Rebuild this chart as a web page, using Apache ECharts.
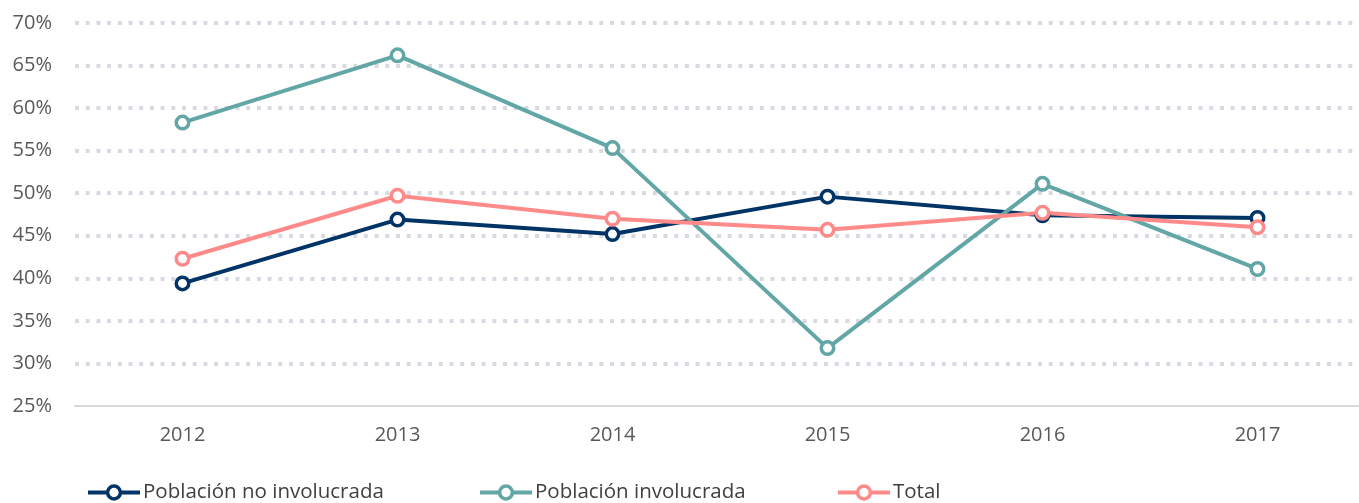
<!DOCTYPE html>
<html>
<head>
<meta charset="utf-8">
<script src="https://cdn.jsdelivr.net/npm/echarts@6/dist/echarts.min.js"></script>
<style>html,body{margin:0;padding:0;background:#fff;}#c{width:1359px;height:503px;}</style>
</head>
<body>
<div id="c"></div>
<script>
const categories = ['2012','2013','2014','2015','2016','2017'];
const noInvolucrada = [39.4, 46.9, 45.2, 49.6, 47.4, 47.1];
const involucrada = [58.3, 66.2, 55.3, 31.8, 51.1, 41.1];
const total = [42.3, 49.7, 47.0, 45.7, 47.7, 46.0];
const seriesNames = ['Población no involucrada', 'Población involucrada', 'Total'];
const colors = ['#003366', '#62a6a6', '#ff8a8a'];
const legendLefts = [86, 478, 836];

const FONT = 'Open Sans';
const chart = echarts.init(document.getElementById('c'));
const mk = (name, data, color) => ({
  name, type: 'line', data,
  symbol: 'circle', symbolSize: 12.5,
  lineStyle: { width: 4, color },
  itemStyle: { color: '#ffffff', borderColor: color, borderWidth: 3.5 },
  emphasis: { disabled: true },
  animation: false
});
const legends = seriesNames.map((n, i) => ({
  left: legendLefts[i], bottom: 0, padding: 0,
  itemWidth: 52, itemHeight: 16,
  textStyle: { fontFamily: FONT, fontSize: 20.5, color: '#404040', padding: [0, 0, 0, -2] },
  lineStyle: { width: 4, color: colors[i] },
  itemStyle: { color: '#ffffff', borderColor: colors[i], borderWidth: 3.5 },
  data: [n]
}));
chart.setOption({
  animation: false,
  grid: { left: 75, top: 23, width: 1290, height: 383, containLabel: false, outerBoundsMode: 'none' },
  legend: legends,
  xAxis: {
    type: 'category', data: categories, boundaryGap: true,
    axisLine: { show: true, lineStyle: { color: '#d9d9d9', width: 2 } },
    axisTick: { show: false },
    axisLabel: { fontFamily: FONT, fontSize: 20, color: '#595959', margin: 19 }
  },
  yAxis: {
    type: 'value', min: 25, max: 70, interval: 5,
    axisLine: { show: false }, axisTick: { show: false },
    axisLabel: { formatter: '{value}%', fontFamily: FONT, fontSize: 20, color: '#595959', margin: 23 },
    splitLine: { show: true, showMinLine: false, lineStyle: { color: '#d8dae2', width: 4, type: [4, 6.7] } }
  },
  series: [
    mk(seriesNames[0], noInvolucrada, colors[0]),
    mk(seriesNames[1], involucrada, colors[1]),
    mk(seriesNames[2], total, colors[2])
  ]
});
</script>
</body>
</html>
